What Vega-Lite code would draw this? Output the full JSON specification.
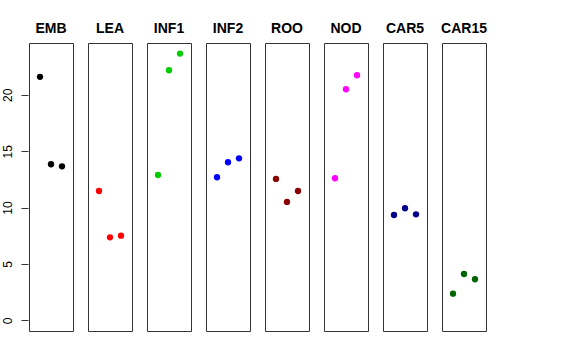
{
  "$schema": "https://vega.github.io/schema/vega-lite/v6.json",
  "padding": {"left": 1, "top": 22, "right": 5, "bottom": 5},
  "data": {"values": [
    {"panel": "EMB", "idx": 1, "value": 21.6},
    {"panel": "EMB", "idx": 2, "value": 13.84},
    {"panel": "EMB", "idx": 3, "value": 13.66},
    {"panel": "LEA", "idx": 1, "value": 11.47},
    {"panel": "LEA", "idx": 2, "value": 7.36},
    {"panel": "LEA", "idx": 3, "value": 7.51},
    {"panel": "INF1", "idx": 1, "value": 12.89},
    {"panel": "INF1", "idx": 2, "value": 22.18},
    {"panel": "INF1", "idx": 3, "value": 23.66},
    {"panel": "INF2", "idx": 1, "value": 12.69},
    {"panel": "INF2", "idx": 2, "value": 14.02},
    {"panel": "INF2", "idx": 3, "value": 14.37},
    {"panel": "ROO", "idx": 1, "value": 12.54},
    {"panel": "ROO", "idx": 2, "value": 10.5},
    {"panel": "ROO", "idx": 3, "value": 11.47},
    {"panel": "NOD", "idx": 1, "value": 12.6},
    {"panel": "NOD", "idx": 2, "value": 20.5},
    {"panel": "NOD", "idx": 3, "value": 21.74},
    {"panel": "CAR5", "idx": 1, "value": 9.34},
    {"panel": "CAR5", "idx": 2, "value": 9.94},
    {"panel": "CAR5", "idx": 3, "value": 9.4},
    {"panel": "CAR15", "idx": 1, "value": 2.36},
    {"panel": "CAR15", "idx": 2, "value": 4.11},
    {"panel": "CAR15", "idx": 3, "value": 3.64}
  ]},
  "facet": {
    "column": {
      "field": "panel", "type": "nominal",
      "sort": ["EMB", "LEA", "INF1", "INF2", "ROO", "NOD", "CAR5", "CAR15"],
      "header": {"title": null, "labelFont": "Liberation Sans", "labelFontWeight": "bold", "labelFontSize": 14, "labelColor": "black", "labelPadding": 6}
    }
  },
  "spacing": 13,
  "spec": {
    "width": 44,
    "height": 288,
    "mark": {"type": "circle", "size": 40, "opacity": 1},
    "encoding": {
      "x": {"field": "idx", "type": "quantitative", "scale": {"domain": [0, 4]}, "axis": null},
      "y": {
        "field": "value", "type": "quantitative",
        "scale": {"domain": [-0.95, 24.6], "nice": false, "zero": false},
        "axis": {"title": null, "values": [0, 5, 10, 15, 20], "domain": false, "grid": false, "tickSize": 7, "tickColor": "#333", "labelAngle": -90, "labelFont": "Liberation Sans", "labelFontSize": 12, "labelColor": "black", "labelPadding": 7}
      },
      "color": {
        "field": "panel", "type": "nominal", "legend": null,
        "scale": {"domain": ["EMB", "LEA", "INF1", "INF2", "ROO", "NOD", "CAR5", "CAR15"], "range": ["#000000", "#FF0000", "#00CD00", "#0000FF", "#8B0000", "#FF00FF", "#00008B", "#006400"]}
      }
    }
  },
  "config": {"view": {"stroke": "#333", "strokeWidth": 1}}
}
